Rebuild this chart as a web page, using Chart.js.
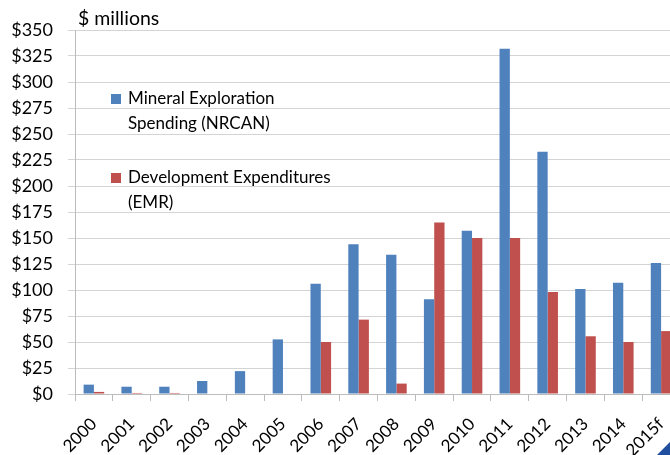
<!DOCTYPE html>
<html>
<head>
<meta charset="utf-8">
<script src="https://cdn.jsdelivr.net/npm/chart.js@4"></script>
<style>
  html, body { margin: 0; padding: 0; background: #fff; overflow: hidden; }
  #wrap { position: relative; width: 690px; height: 455px; }
  #corner {
    position: absolute; left: 657px; top: 441px; width: 14px; height: 14px;
    background: #1f4f9e; clip-path: polygon(100% 0, 100% 100%, 0 100%);
  }
</style>
</head>
<body>
<div id="wrap">
  <canvas id="spendingChart" width="690" height="455"></canvas>
  <div id="corner"></div>
</div>
<script>
const years = ['2000', '2001', '2002', '2003', '2004', '2005', '2006', '2007',
  '2008', '2009', '2010', '2011', '2012', '2013', '2014', '2015f'];
const explorationSpending = [9, 7, 7, 12.5, 22, 52.5, 106, 144, 134, 91, 157, 332, 233, 101, 107, 126];
const developmentExpenditures = [2, 1, 1, 0, 0, 0, 50, 71.5, 10, 165, 150, 150, 98, 55.5, 50, 60.5];
const explorationLines = ['Mineral Exploration', 'Spending (NRCAN)'];
const developmentLines = ['Development Expenditures', '(EMR)'];
const unitsLabel = '$ millions';

const FONT = 'Lato, Calibri, Carlito, sans-serif';

// legend sits inside the plot, plus the units caption above it
const insideLegend = {
  id: 'insideLegend',
  afterDraw(chart) {
    const ctx = chart.ctx;
    const area = chart.chartArea;
    ctx.save();
    ctx.fillStyle = '#000';
    ctx.font = '19.5px ' + FONT;
    ctx.textBaseline = 'alphabetic';
    ctx.fillText(unitsLabel, area.left + 3, 25);

    const entries = [
      {lines: explorationLines, color: chart.data.datasets[0].backgroundColor, y: 99},
      {lines: developmentLines, color: chart.data.datasets[1].backgroundColor, y: 178}
    ];
    ctx.font = '17px ' + FONT;
    ctx.textBaseline = 'middle';
    entries.forEach(e => {
      ctx.fillStyle = e.color;
      ctx.fillRect(111, e.y - 5, 10, 10);
      ctx.fillStyle = '#000';
      e.lines.forEach((t, i) => ctx.fillText(t, 128, e.y + i * 25));
    });
    ctx.restore();
  }
};

new Chart(document.getElementById('spendingChart'), {
  type: 'bar',
  data: {
    labels: years,
    datasets: [{
      label: explorationLines.join(' '),
      data: explorationSpending,
      backgroundColor: '#4f81bd',
      categoryPercentage: 0.545,
      barPercentage: 1
    }, {
      label: developmentLines.join(' '),
      data: developmentExpenditures,
      backgroundColor: '#c0504d',
      categoryPercentage: 0.545,
      barPercentage: 1
    }]
  },
  options: {
    responsive: false,
    animation: false,
    layout: {padding: {top: 30, right: 10, bottom: 0, left: 0}},
    plugins: {
      legend: {display: false},
      tooltip: {enabled: false}
    },
    scales: {
      x: {
        afterFit(scale) { scale.height = 61; },
        border: {display: true, color: '#bcbcbc'},
        grid: {drawOnChartArea: false, drawTicks: true, tickLength: 7, color: '#bcbcbc'},
        ticks: {
          color: '#000',
          font: {family: FONT, size: 17},
          minRotation: 45,
          maxRotation: 45,
          autoSkip: false,
          padding: 13
        }
      },
      y: {
        min: 0,
        max: 350,
        afterFit(scale) { scale.width = 75; },
        border: {display: true, color: '#bcbcbc'},
        grid: {color: '#d4d4d4', tickLength: 7},
        ticks: {
          stepSize: 25,
          color: '#000',
          font: {family: FONT, size: 18},
          padding: 15,
          callback: v => '$' + v
        }
      }
    }
  },
  plugins: [insideLegend]
});
</script>
</body>
</html>
